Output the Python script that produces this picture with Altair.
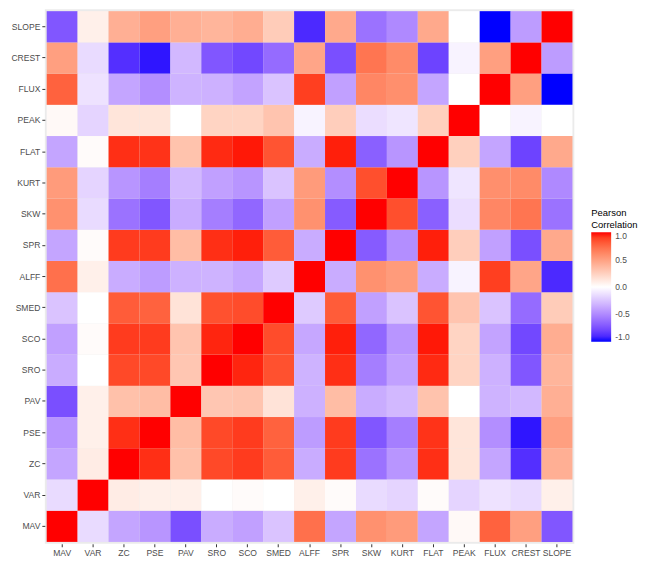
import altair as alt
import pandas as pd

variables = ["MAV", "VAR", "ZC", "PSE", "PAV", "SRO", "SCO", "SMED", "ALFF",
             "SPR", "SKW", "KURT", "FLAT", "PEAK", "FLUX", "CREST", "SLOPE"]

MAV = [1, -0.15, -0.38, -0.45, -0.75, -0.35, -0.4, -0.25, 0.72, -0.38, 0.57, 0.52, -0.38, 0.03, 0.78, 0.5, -0.72]
VAR = [-0.15, 1, 0.1, 0.08, 0.08, 0.0, 0.02, 0.0, 0.08, 0.02, -0.15, -0.18, 0.02, -0.18, -0.12, -0.15, 0.08]
ZC = [-0.38, 0.1, 1, 0.94, 0.33, 0.87, 0.91, 0.8, -0.35, 0.91, -0.6, -0.45, 0.94, 0.14, -0.38, -0.88, 0.42]
PSE = [-0.45, 0.08, 0.94, 1, 0.35, 0.87, 0.91, 0.78, -0.42, 0.91, -0.72, -0.55, 0.93, 0.14, -0.48, -0.96, 0.5]
PAV = [-0.75, 0.08, 0.33, 0.35, 1, 0.3, 0.31, 0.15, -0.33, 0.35, -0.35, -0.3, 0.32, 0.0, -0.32, -0.3, 0.42]
SRO = [-0.35, 0.0, 0.87, 0.87, 0.3, 1, 0.96, 0.84, -0.32, 0.94, -0.55, -0.4, 0.95, 0.23, -0.33, -0.72, 0.39]
SCO = [-0.4, 0.02, 0.91, 0.91, 0.31, 0.96, 1, 0.86, -0.37, 0.97, -0.65, -0.45, 0.98, 0.23, -0.39, -0.78, 0.43]
SMED = [-0.25, 0.0, 0.8, 0.78, 0.15, 0.84, 0.86, 1, -0.22, 0.8, -0.4, -0.25, 0.83, 0.31, -0.25, -0.63, 0.27]
ALFF = [0.72, 0.08, -0.35, -0.42, -0.33, -0.32, -0.37, -0.22, 1, -0.35, 0.57, 0.52, -0.35, -0.05, 0.9, 0.47, -0.9]
SPR = [-0.38, 0.02, 0.91, 0.91, 0.35, 0.94, 0.97, 0.8, -0.35, 1, -0.7, -0.48, 0.97, 0.26, -0.4, -0.75, 0.45]
SKW = [0.57, -0.15, -0.6, -0.72, -0.35, -0.55, -0.65, -0.4, 0.57, -0.7, 1, 0.85, -0.68, -0.14, 0.62, 0.7, -0.6]
KURT = [0.52, -0.18, -0.45, -0.55, -0.3, -0.4, -0.45, -0.25, 0.52, -0.48, 0.85, 1, -0.45, -0.11, 0.58, 0.6, -0.5]
FLAT = [-0.38, 0.02, 0.94, 0.93, 0.32, 0.95, 0.98, 0.83, -0.35, 0.97, -0.68, -0.45, 1, 0.25, -0.38, -0.8, 0.45]
PEAK = [0.03, -0.18, 0.14, 0.14, 0.0, 0.23, 0.23, 0.31, -0.05, 0.26, -0.14, -0.11, 0.25, 1, 0.0, -0.05, 0.0]
FLUX = [0.78, -0.12, -0.38, -0.48, -0.32, -0.33, -0.39, -0.25, 0.9, -0.4, 0.62, 0.58, -0.38, 0.0, 1, 0.5, -1.0]
CREST = [0.5, -0.15, -0.88, -0.96, -0.3, -0.72, -0.78, -0.63, 0.47, -0.75, 0.7, 0.6, -0.8, -0.05, 0.5, 1, -0.42]
SLOPE = [-0.72, 0.08, 0.42, 0.5, 0.42, 0.39, 0.43, 0.27, -0.9, 0.45, -0.6, -0.5, 0.45, 0.0, -1.0, -0.42, 1]

rows = {"MAV": MAV, "VAR": VAR, "ZC": ZC, "PSE": PSE, "PAV": PAV, "SRO": SRO,
        "SCO": SCO, "SMED": SMED, "ALFF": ALFF, "SPR": SPR, "SKW": SKW,
        "KURT": KURT, "FLAT": FLAT, "PEAK": PEAK, "FLUX": FLUX,
        "CREST": CREST, "SLOPE": SLOPE}

records = []
for yname, vals in rows.items():
    for xname, v in zip(variables, vals):
        records.append({"Var1": xname, "Var2": yname, "value": v})
df = pd.DataFrame(records)

font = "Liberation Sans"

chart = alt.Chart(df).mark_rect(strokeWidth=0).encode(
    x=alt.X("Var1:N", sort=variables, title=None,
            scale=alt.Scale(paddingInner=0, paddingOuter=0.06),
            axis=alt.Axis(labelAngle=0)),
    y=alt.Y("Var2:N", sort=variables[::-1], title=None,
            scale=alt.Scale(paddingInner=0, paddingOuter=0.06)),
    color=alt.Color(
        "value:Q",
        scale=alt.Scale(domain=[-1, 0, 1], range=["#0000FF", "#FFFFFF", "#FF0000"],
                        interpolate="lab"),
        legend=alt.Legend(
            title=["Pearson", "Correlation"],
            orient="none", legendX=549, legendY=200,
            values=[-1, -0.5, 0, 0.5, 1],
            labelExpr="replace(format(datum.value, '.1f'), '\u2212', '-')",
            gradientLength=110, gradientThickness=20,
            titleFont=font, titleFontSize=9.5, titleFontWeight="normal",
            titleColor="#000000", titlePadding=3,
            labelFont=font, labelFontSize=8.5, labelColor="#4D4D4D",
            labelOffset=4, direction="vertical",
        ),
    ),
).properties(
    width=532, height=537,
    autosize=alt.AutoSizeParams(type="none"),
    padding={"left": 37, "top": 0, "right": 68, "bottom": 18},
).configure_view(
    fill="#EBEBEB", stroke=None
).configure_axis(
    domain=False, grid=False, labelFont=font, labelFontSize=8.6,
    labelColor="#4D4D4D", tickColor="#333333", tickSize=3, tickWidth=1,
    labelPadding=2,
)

chart.save("out.html", embed_options={"renderer": "svg", "actions": False})
